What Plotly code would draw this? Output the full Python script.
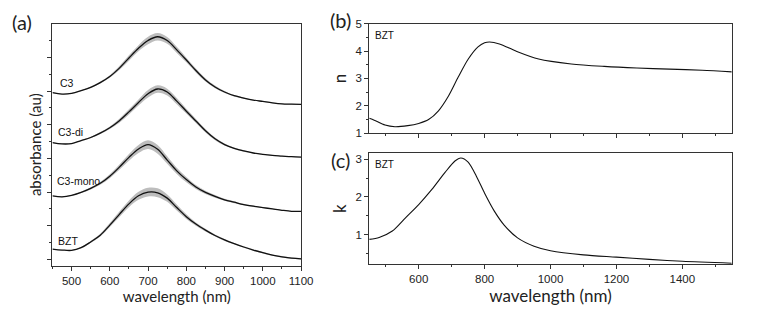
import plotly.graph_objects as go

# ---- panel (a): absorbance spectra (arbitrary offsets) ----
wl_a = [450, 475, 500, 525, 550, 575, 600, 625, 650, 675, 700, 725, 750, 775,
        800, 825, 850, 875, 900, 925, 950, 975, 1000, 1025, 1050, 1075, 1100]

abs_c3 = [4.95, 4.91, 4.93, 5.01, 5.11, 5.25, 5.43, 5.68, 5.98, 6.27, 6.50, 6.61, 6.50, 6.22,
          5.92, 5.61, 5.33, 5.12, 4.97, 4.86, 4.79, 4.73, 4.69, 4.65, 4.62, 4.61, 4.60]
abs_c3di = [3.47, 3.43, 3.44, 3.53, 3.62, 3.75, 3.91, 4.12, 4.38, 4.66, 4.92, 5.06, 4.97, 4.70,
            4.40, 4.11, 3.82, 3.58, 3.41, 3.30, 3.22, 3.16, 3.12, 3.09, 3.07, 3.05, 3.04]
abs_c3mono = [1.89, 1.86, 1.90, 1.99, 2.11, 2.26, 2.47, 2.74, 3.03, 3.28, 3.41, 3.27, 2.95, 2.63,
              2.37, 2.15, 1.99, 1.87, 1.77, 1.70, 1.63, 1.58, 1.54, 1.50, 1.46, 1.43, 1.43]
abs_bzt = [0.31, 0.28, 0.27, 0.35, 0.52, 0.72, 1.02, 1.34, 1.65, 1.89, 2.00, 1.98, 1.82, 1.54,
           1.27, 1.05, 0.87, 0.71, 0.58, 0.47, 0.37, 0.28, 0.20, 0.13, 0.08, 0.04, 0.02]

# half-width of the grey spread band
sd_c3 = [0.01, 0.01, 0.01, 0.01, 0.02, 0.03, 0.04, 0.06, 0.08, 0.09, 0.11, 0.11, 0.10, 0.09,
         0.07, 0.06, 0.05, 0.04, 0.03, 0.02, 0.02, 0.01, 0.01, 0.01, 0.01, 0.01, 0.01]
sd_c3di = [0.01, 0.01, 0.01, 0.01, 0.02, 0.03, 0.04, 0.06, 0.08, 0.09, 0.11, 0.11, 0.10, 0.09,
           0.07, 0.06, 0.05, 0.04, 0.03, 0.02, 0.02, 0.01, 0.01, 0.01, 0.01, 0.01, 0.01]
sd_c3mono = [0.01, 0.01, 0.01, 0.02, 0.03, 0.04, 0.06, 0.08, 0.10, 0.12, 0.13, 0.13, 0.11, 0.09,
             0.08, 0.06, 0.05, 0.04, 0.03, 0.03, 0.02, 0.02, 0.01, 0.01, 0.01, 0.01, 0.01]
sd_bzt = [0.01, 0.01, 0.01, 0.02, 0.03, 0.04, 0.06, 0.08, 0.10, 0.12, 0.13, 0.13, 0.11, 0.09,
          0.07, 0.05, 0.04, 0.03, 0.03, 0.02, 0.02, 0.02, 0.02, 0.02, 0.02, 0.02, 0.02]

names_a = ["C3", "C3-di", "C3-mono", "BZT"]
label_wl = [488, 497, 517, 490]
label_y = [5.25, 3.78, 2.33, 0.55]

# ---- panel (b): refractive index n of BZT ----
wl_n = [450, 465, 498, 528, 567, 600, 630, 660, 690, 720, 750, 780, 800, 815, 845, 895,
        964, 1063, 1163, 1262, 1361, 1460, 1550]
n_bzt = [1.55, 1.48, 1.30, 1.24, 1.28, 1.36, 1.50, 1.82, 2.35, 3.05, 3.70, 4.15, 4.30, 4.33, 4.26, 4.00,
         3.71, 3.53, 3.44, 3.38, 3.34, 3.30, 3.24]

# ---- panel (c): extinction coefficient k of BZT ----
wl_k = [450, 480, 520, 560, 600, 640, 680, 710, 728, 750, 775, 800, 830, 860, 900, 950,
        1000, 1100, 1200, 1300, 1400, 1550]
k_bzt = [0.88, 0.93, 1.10, 1.45, 1.80, 2.20, 2.65, 2.95, 3.03, 2.92, 2.55, 2.10, 1.62, 1.25, 0.92, 0.70,
         0.58, 0.47, 0.41, 0.35, 0.30, 0.25]

LINE = "#111111"
BAND = "rgba(185,185,185,0.95)"
TICKFONT = dict(family="Liberation Sans, Arial", size=11.5, color="#222")
TITLEFONT = "Lato, Open Sans, sans-serif"

fig = go.Figure()

series = [(abs_c3, sd_c3), (abs_c3di, sd_c3di), (abs_c3mono, sd_c3mono), (abs_bzt, sd_bzt)]
for vals, sd in series:
    upper = [v + s for v, s in zip(vals, sd)]
    lower = [v - s for v, s in zip(vals, sd)]
    fig.add_trace(go.Scatter(x=wl_a, y=upper, mode="lines", line=dict(width=0, shape="spline"),
                             xaxis="x", yaxis="y", showlegend=False, hoverinfo="skip"))
    fig.add_trace(go.Scatter(x=wl_a, y=lower, mode="lines", line=dict(width=0, shape="spline"),
                             fill="tonexty", fillcolor=BAND,
                             xaxis="x", yaxis="y", showlegend=False, hoverinfo="skip"))
    fig.add_trace(go.Scatter(x=wl_a, y=vals, mode="lines",
                             line=dict(color=LINE, width=1.3, shape="spline"),
                             xaxis="x", yaxis="y", showlegend=False))

fig.add_trace(go.Scatter(x=wl_n, y=n_bzt, mode="lines",
                         line=dict(color=LINE, width=1.1, shape="spline", smoothing=0.8),
                         xaxis="x2", yaxis="y2", showlegend=False))
fig.add_trace(go.Scatter(x=wl_k, y=k_bzt, mode="lines",
                         line=dict(color=LINE, width=1.1, shape="spline", smoothing=0.8),
                         xaxis="x3", yaxis="y3", showlegend=False))

axis_common = dict(showline=True, linecolor="#333", linewidth=1, mirror=True,
                   ticks="outside", ticklen=4, tickcolor="#333", showgrid=False,
                   zeroline=False, tickfont=TICKFONT)

fig.update_layout(
    width=761, height=321,
    margin=dict(l=0, r=0, t=0, b=0),
    plot_bgcolor="white", paper_bgcolor="white",
    xaxis=dict(axis_common, domain=[0.070, 0.402], range=[450, 1100],
               tickvals=[500, 600, 700, 800, 900, 1000, 1100],
               minor=dict(dtick=50, ticks="outside", ticklen=2, tickcolor="#333"),
               title=dict(text="wavelength (nm)", font=dict(family=TITLEFONT, size=15, color="#222"),
                          standoff=0),
               anchor="y"),
    yaxis=dict(axis_common, domain=[0.159, 0.943], range=[-0.19, 7.0],
               tickvals=[0, 1, 2, 3, 4, 5, 6], showticklabels=False,
               minor=dict(tickvals=[0.5, 1.5, 2.5, 3.5, 4.5, 5.5, 6.5], ticks="outside",
                          ticklen=2, tickcolor="#333"),
               title=dict(text="absorbance (au)", font=dict(family=TITLEFONT, size=15, color="#222"),
                          standoff=2),
               anchor="x"),
    xaxis2=dict(axis_common, domain=[0.493, 0.977], range=[450, 1550],
                tickvals=[600, 800, 1000, 1200, 1400], showticklabels=False,
                minor=dict(dtick=100, ticks="outside", ticklen=2, tickcolor="#333"),
                anchor="y2"),
    yaxis2=dict(axis_common, domain=[0.588, 0.943], range=[1, 5],
                tickvals=[1, 2, 3, 4, 5],
                minor=dict(dtick=0.5, ticks="outside", ticklen=2, tickcolor="#333"),
                title=dict(text="n", font=dict(family=TITLEFONT, size=17, color="#222"), standoff=4),
                anchor="x2"),
    xaxis3=dict(axis_common, domain=[0.493, 0.977], range=[450, 1550],
                tickvals=[600, 800, 1000, 1200, 1400],
                minor=dict(dtick=100, ticks="outside", ticklen=2, tickcolor="#333"),
                title=dict(text="wavelength (nm)", font=dict(family=TITLEFONT, size=17, color="#222"),
                           standoff=0),
                anchor="y3"),
    yaxis3=dict(axis_common, domain=[0.164, 0.524], range=[0.22, 3.16],
                tickvals=[1, 2, 3],
                minor=dict(tickvals=[0.5, 1.5, 2.5], ticks="outside", ticklen=2, tickcolor="#333"),
                title=dict(text="k", font=dict(family=TITLEFONT, size=17, color="#222"), standoff=4),
                anchor="x3"),
)

for name, lx, ly in zip(names_a, label_wl, label_y):
    fig.add_annotation(x=lx, y=ly, xref="x", yref="y", text=name, showarrow=False,
                       xanchor="center", font=dict(family="Liberation Sans, Arial", size=10.5, color="#111"))

fig.add_annotation(x=495, y=4.57, xref="x2", yref="y2", text="BZT", showarrow=False,
                   font=dict(family="Liberation Sans, Arial", size=10, color="#111"))
fig.add_annotation(x=495, y=2.86, xref="x3", yref="y3", text="BZT", showarrow=False,
                   font=dict(family="Liberation Sans, Arial", size=10, color="#111"))

for txt, px, py in [("(a)", 22, 17), ("(b)", 346, 15), ("(c)", 346, 160)]:
    fig.add_annotation(x=px / 761, y=1 - py / 321, xref="paper", yref="paper", text=txt,
                       showarrow=False, xanchor="center", yanchor="middle",
                       font=dict(family=TITLEFONT, size=20, color="#222"))

# the browser's default body margin pushes the figure 8px off the corner
fig.write_html("out.html", config={"displayModeBar": False},
               post_script="document.body.style.margin='0px';")
